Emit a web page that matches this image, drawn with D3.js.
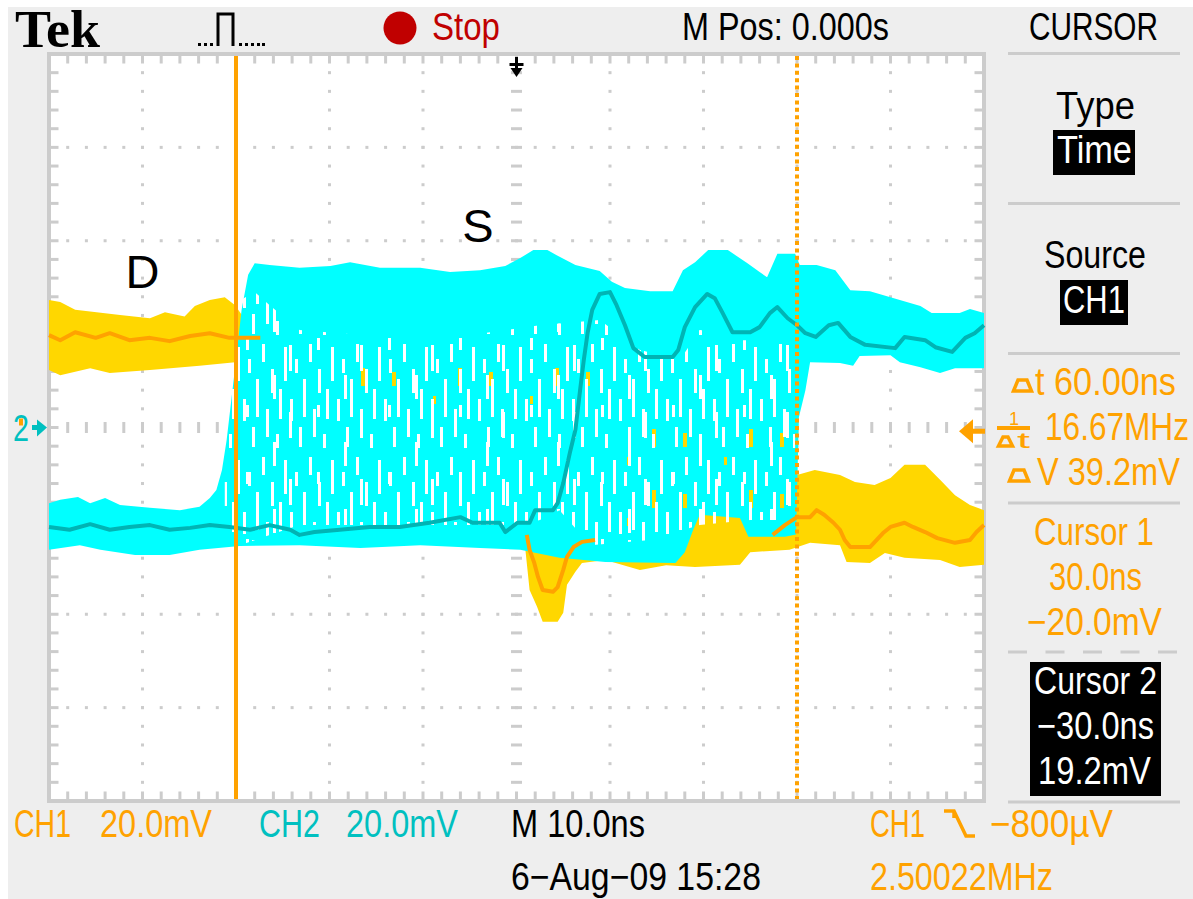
<!DOCTYPE html>
<html>
<head>
<meta charset="utf-8">
<script src="https://cdn.jsdelivr.net/npm/d3@7"></script>
<style>
  html, body { margin: 0; padding: 0; background: #fff; }
  svg { display: block; }
</style>
</head>
<body>
<svg id="scope" width="1193" height="899"></svg>
<script>
// time in ns, voltage in mV (20 mV/div, 10 ns/div)
const ch1Upper = [[-50,27.3],[-48.8,26.9],[-47.2,25.2],[-42.4,24.1],[-39.2,23.4],[-37.6,24.7],[-35.5,23.8],[-34.4,26],[-32.8,27.3],[-31.2,27.9],[-30.1,26.2],[-29,23],[-27.4,18.7],[-23.2,16.6],[-1.8,10.2],[0.6,-21.5],[1.1,-22],[2.5,-22.4],[8.9,-22.4],[13.2,-24],[18.5,-20],[19.1,-18.3],[23.9,-18.3],[26,-19.8],[29.2,-17.7],[30,-10.2],[31.9,-9.1],[34.6,-10.2],[36.2,-11.7],[38.3,-12.3],[40,-10.8],[41.5,-8],[43.7,-8],[45.3,-11.2],[46.9,-14.5],[48.5,-16.6],[50,-17.7]];
const ch1Lower = [[-50,12.3],[-48.8,11.2],[-45.6,12.7],[-43.5,11.7],[-39.2,12.3],[-33.9,13.2],[-30.1,14],[-27.4,10.2],[-23.2,-24.1],[-1.8,-24.1],[0.9,-25.2],[1.4,-34.8],[2.2,-38.4],[2.8,-41.6],[4.4,-41.6],[5,-39.7],[5.4,-33.7],[6.3,-30.9],[7,-29],[9.5,-28.4],[13.2,-30.5],[16,-29.5],[19.1,-29.9],[23.9,-29.4],[25,-26.7],[29.2,-26.2],[31.4,-24.7],[34.6,-25.2],[35.3,-28.8],[37.8,-29],[39.4,-26.9],[41.5,-27.9],[45.3,-28.4],[47.4,-29.9],[50,-29.4]];
const ch1Mean = [[-50,19.8],[-48.8,18.7],[-47.2,20.4],[-45,19.2],[-43.5,20.2],[-41.4,18.7],[-39.2,19.2],[-37.1,18.5],[-34.9,19.6],[-32.8,20.2],[-30.7,19.2],[-27.4,19.2],[-12,null],
  [1.1,-23],[1.4,-26.2],[1.9,-29],[2.3,-32],[2.8,-34.8],[3.9,-35.2],[4.4,-34.2],[5,-30.5],[5.4,-27.7],[6.1,-25.6],[7,-24.5],[8.4,-24.1],[18,null],
  [27.4,-23],[28.7,-20.9],[30,-19.2],[31.4,-19.2],[32.1,-17.7],[32.9,-18.7],[33.9,-20.4],[34.6,-21.9],[35.1,-24.1],[35.7,-25.6],[37.8,-25.6],[38.5,-24.1],[39.2,-22.6],[40,-21.3],[41.5,-20.4],[42.4,-21.3],[43.7,-22.4],[45,-23.7],[46.9,-24.7],[48.5,-24.1],[49.2,-22.4],[50,-20.9]];

const ch2Upper = [[-50,-16.2],[-48.8,-15.5],[-46.9,-14.9],[-45.6,-16.2],[-44,-15.1],[-42.4,-16.6],[-39.2,-17.2],[-36,-17.7],[-33.9,-17],[-32.8,-15.1],[-32.1,-13.4],[-31.5,-9.1],[-31,-2.7],[-30.5,5.9],[-30,14.5],[-29.4,25.2],[-28.7,32.7],[-28,35.2],[-26.4,34.8],[-23.2,34.2],[-19.9,34.6],[-17.8,35.4],[-14.6,34.2],[-10.3,34.2],[-7.1,33.3],[-3.9,33.7],[-1.2,34.6],[0.4,36.3],[1.8,38],[3.3,38],[4.3,36.9],[6.3,34.8],[8.9,33.5],[10.2,31.2],[11.6,29.9],[14.3,29.2],[16.7,29.2],[17.8,33.7],[19.1,35.4],[20.5,38],[22.6,38],[24.7,35.2],[26,33.3],[26.8,32.2],[27.9,37.2],[29.8,37.2],[30.3,34.8],[32.1,34.8],[34.1,33.7],[35.7,29.4],[37.8,29.2],[41,27.3],[43.2,26],[44.4,24.5],[47.4,24.5],[48.5,25.4],[50,24.5]];
const ch2Lower = [[-50,-26.2],[-46.7,-25.2],[-44.5,-26.2],[-40.8,-27.3],[-37.1,-27.3],[-33.9,-26.2],[-29.6,-25.4],[-23.2,-25.2],[-16.7,-25.8],[-10.3,-25.2],[-3.9,-25.8],[0.4,-26.2],[4.6,-27.9],[9.5,-28.8],[17,-29],[18,-26.7],[18.9,-21.9],[19.6,-18.7],[23.9,-19.4],[24.8,-23.4],[28.7,-23.4],[29.9,-22.9],[30.2,2.2],[30.9,8],[31.4,14],[34.6,13.8],[36,13.2],[36.7,15.3],[40,15.5],[41,14],[43.2,12.9],[45.3,11.7],[46.9,12.7],[50,12.7]];
const ch2Mean = [[-50,-21.3],[-47.8,-21.9],[-45.6,-20.7],[-43.5,-21.9],[-41.4,-21.3],[-39.2,-20.9],[-37.1,-21.9],[-34.9,-21.5],[-32.8,-20.9],[-30.7,-21.3],[-28.5,-21.9],[-26.4,-20.9],[-24.2,-21.9],[-23.2,-23],[-21.6,-22.4],[-18.9,-21.9],[-15.7,-21.3],[-12.5,-21.3],[-9.3,-20.4],[-6,-19.2],[-4.7,-20.4],[-1.8,-20.4],[-1.2,-22.4],[0.1,-20.4],[1.4,-20.4],[2,-17.7],[3.9,-17.7],[4.4,-16.2],[5,-11.9],[5.7,-5.5],[6.3,-0.5],[6.8,8],[7.2,14.5],[7.6,20.2],[8.1,25.2],[8.9,28.6],[10,29],[10.7,26.2],[11.6,21.9],[12.5,17],[13.7,15.1],[16.7,15.1],[17.3,16.6],[18,21.5],[19.1,25.8],[20.4,28.6],[21.2,27.7],[22,24.7],[23.1,20.4],[25,20.4],[26,21.5],[27.1,24.5],[27.9,25.8],[29,23.4],[30,21.9],[30.9,20.2],[32,19.4],[33.4,21.9],[34.4,22.4],[35.7,19.4],[37.3,17.7],[40.5,17],[41.5,19.4],[43.7,18.7],[44.8,17.2],[46.6,16.2],[48,19.2],[49,20.2],[50,21.9]];
// part of the CH2 persistence band where sweeps are sparse (white gaps)
const ch2GapUpper = [[-31.2,-9.1],[-30.4,10.2],[-29.5,27.3],[-28,29],[-26.4,26.2],[-23.2,20.9],[-16.7,19.8],[-7.1,19.2],[2.5,21.9],[8.9,23],[13.2,16.6],[17.5,14.5],[19.6,20.9],[23.9,18.7],[29.8,18.7]];
const ch2GapLower = [[-31.2,-19.8],[-29.6,-25.2],[-23.2,-20.9],[-12.5,-20.9],[0.4,-20.9],[2.5,-19.8],[4.6,-17.7],[7.9,-25.2],[14.3,-24.1],[19.6,-20.9],[25,-19.8],[29.8,-19.8]];
// CH1 samples showing through the CH2 persistence
const ch1SpeckUpper = [[-23,18],[8,18],[12,2],[29.5,2]];
const ch1SpeckLower = [[-23,9],[8,0],[12,-22],[29.5,-22]];

const cursorTimes = [-30, 30];   // cursor 2 (solid), cursor 1 (dotted)
const triggerLevel = -0.8;       // mV
const timeDomain = [-50, 50];
const voltDomain = [-80, 80];

const W = 1193, H = 899;
const ORANGE = '#ffa200', GOLD = '#ffd700', CYAN = '#00ffff', TEAL = '#00b4b4', CH2TXT = '#00c0c0';
const GRID = '#cccccc';
const FONT = "'Liberation Sans Narrow', 'Liberation Sans', sans-serif";

const svg = d3.select('#scope');

svg.append('rect').attr('width', W).attr('height', H).attr('fill', '#fff');
svg.append('rect').attr('x', 8).attr('y', 7).attr('width', W - 8).attr('height', H - 7).attr('fill', '#eeeeee');

const x = d3.scaleLinear(timeDomain, [49, 984]);
const y = d3.scaleLinear(voltDomain, [801, 54]);

/* plot area */
svg.append('rect')
  .attr('x', x(-50)).attr('y', y(80))
  .attr('width', x(50) - x(-50)).attr('height', y(-80) - y(80))
  .attr('fill', '#fff');

/* textures for the persistence display */
const defs = svg.append('defs');
function pattern(id, w, h, rects, color) {
  const p = defs.append('pattern')
    .attr('id', id)
    .attr('patternUnits', 'userSpaceOnUse')
    .attr('width', w).attr('height', h);
  rects.forEach((r) => {
    p.append('rect').attr('x', r[0]).attr('y', r[1]).attr('width', r[2]).attr('height', r[3]).attr('fill', color);
  });
}
pattern('gapsA', 47, 113, [[2,8,3,34],[8,60,3,22],[13,20,3,14],[17,88,3,20],[21,40,3,38],[27,5,3,18],[31,70,3,28],[36,30,3,24],[41,95,3,14],[44,50,3,30]], '#fff');
pattern('gapsB', 71, 67, [[5,10,3,26],[33,3,3,12],[60,40,3,24]], '#fff');
pattern('specks', 97, 61, [[4,6,4,14],[45,30,3,8],[70,2,4,18]], GOLD);

/* grid */
const grid = svg.append('g');
const minorT = d3.range(-50, 50.001, 2);
const minorV = d3.range(-80, 80.001, 4);
const majorT = d3.range(-40, 40.001, 10).filter((d) => d !== 0);
const majorV = d3.range(-60, 60.001, 20).filter((d) => d !== 0);

function dot(cx, cy, w, h) {
  grid.append('rect')
    .attr('x', cx - w / 2).attr('y', cy - h / 2)
    .attr('width', w).attr('height', h)
    .attr('fill', GRID);
}

majorT.forEach((t) => minorV.slice(1, -1).forEach((v) => dot(x(t), y(v), 3, 3)));
majorV.forEach((v) => minorT.slice(1, -1).forEach((t) => dot(x(t), y(v), 3, 3)));
minorT.slice(1, -1).forEach((t) => dot(x(t), y(0), 3, 11));
minorV.slice(1, -1).forEach((v) => dot(x(0), y(v), 11, 3));

// border ticks
minorT.slice(1, -1).forEach((t) => {
  dot(x(t), y(80) + 5, 3, 9);
  dot(x(t), y(-80) - 5, 3, 9);
});
minorV.slice(1, -1).forEach((v) => {
  dot(x(-50) + 5, y(v), 9, 3);
  dot(x(50) - 5, y(v), 9, 3);
});

grid.append('rect')
  .attr('x', x(-50)).attr('y', y(80))
  .attr('width', x(50) - x(-50)).attr('height', y(-80) - y(80))
  .attr('fill', 'none').attr('stroke', GRID).attr('stroke-width', 4);

/* traces */
const line = d3.line()
  .defined((d) => d[1] !== null)
  .x((d) => x(d[0]))
  .y((d) => y(d[1]));

function band(up, lo) {
  return line(up.concat(lo.slice().reverse())) + 'Z';
}

const traces = svg.append('g');

traces.append('path').attr('d', band(ch1Upper, ch1Lower)).attr('fill', GOLD);
traces.append('path').attr('d', band(ch2Upper, ch2Lower)).attr('fill', CYAN);
traces.append('path').attr('d', band(ch1SpeckUpper, ch1SpeckLower)).attr('fill', 'url(#specks)');
traces.append('path').attr('d', band(ch2GapUpper, ch2GapLower)).attr('fill', 'url(#gapsA)');
traces.append('path').attr('d', band(ch2GapUpper, ch2GapLower)).attr('fill', 'url(#gapsB)');

traces.append('path')
  .attr('d', line(ch1Mean))
  .attr('fill', 'none').attr('stroke', ORANGE).attr('stroke-width', 4)
  .attr('stroke-linejoin', 'round');
traces.append('path')
  .attr('d', line(ch2Mean))
  .attr('fill', 'none').attr('stroke', TEAL).attr('stroke-width', 4)
  .attr('stroke-linejoin', 'round');

/* cursors */
cursorTimes.forEach((t, i) => {
  svg.append('line')
    .attr('x1', x(t)).attr('x2', x(t))
    .attr('y1', y(80) + 2).attr('y2', y(-80) - 2)
    .attr('stroke', ORANGE).attr('stroke-width', 4)
    .attr('stroke-dasharray', i === 0 ? null : '4,3.4');
});

/* markers */
// trigger position
const tx = x(0);
svg.append('rect').attr('x', tx - 1.5).attr('y', 57).attr('width', 3).attr('height', 12).attr('fill', '#000');
svg.append('rect').attr('x', tx - 7).attr('y', 63).attr('width', 14).attr('height', 3).attr('fill', '#000');
svg.append('path').attr('d', `M${tx - 6},68 L${tx + 6},68 L${tx},77 Z`).attr('fill', '#000');

/* readouts: text squeezed horizontally to the narrow scope font */
function label(str, x0, x1, base, color, size, family, weight) {
  const t = svg.append('text')
    .attr('font-family', family || FONT).attr('font-size', size || 38)
    .attr('font-weight', weight || null)
    .attr('fill', color).text(str);
  const natural = t.node().getComputedTextLength();
  const sx = natural > 0 ? (x1 - x0) / natural : 1;
  t.attr('transform', `translate(${x0},${base}) scale(${sx},1)`);
  return t;
}

// CH2 ground marker
const gy = y(0);
label('2', 13, 29, gy + 13, CH2TXT, 36);
svg.append('rect').attr('x', 19).attr('y', gy - 9).attr('width', 4).attr('height', 7).attr('fill', ORANGE);
svg.append('rect').attr('x', 32).attr('y', gy - 2.5).attr('width', 6).attr('height', 5).attr('fill', CH2TXT);
svg.append('path').attr('d', `M37,${gy - 8} L47,${gy} L37,${gy + 9} Z`).attr('fill', CH2TXT);

// trigger level marker
const ty = y(triggerLevel);
svg.append('path').attr('d', `M959,${ty} L973,${ty - 12} L973,${ty + 12} Z`).attr('fill', ORANGE);
svg.append('rect').attr('x', 972).attr('y', ty - 2.5).attr('width', 13).attr('height', 5).attr('fill', ORANGE);

/* trace labels */
svg.append('text').attr('x', x(-40)).attr('y', 288).attr('text-anchor', 'middle')
  .attr('font-family', "'Liberation Sans', Arial, sans-serif").attr('font-size', 47).text('D');
svg.append('text').attr('x', 478).attr('y', 242).attr('text-anchor', 'middle')
  .attr('font-family', "'Liberation Sans', Arial, sans-serif").attr('font-size', 47).text('S');

// top bar
label('Tek', 15, 100, 47, '#000', 52, "'Liberation Serif', 'DejaVu Serif', serif", 'bold');

svg.append('path')
  .attr('d', 'M218,46 L218,14 L233,14 L233,46')
  .attr('fill', 'none').attr('stroke', '#000').attr('stroke-width', 3);
[198, 204, 210, 239, 245, 251, 257, 262].forEach((px) => {
  svg.append('rect').attr('x', px).attr('y', 43).attr('width', 3).attr('height', 3).attr('fill', '#000');
});

svg.append('circle').attr('cx', 400).attr('cy', 28).attr('r', 16.5).attr('fill', '#c00000');
label('Stop', 432, 500, 40, '#c00000');
label('M Pos: 0.000s', 682, 889, 40, '#000');
label('CURSOR', 1029, 1158, 40, '#000');

// right menu
[53.5, 203.5, 353.5, 503, 802].forEach((py) => {
  svg.append('line').attr('x1', 1008).attr('x2', 1180).attr('y1', py).attr('y2', py)
    .attr('stroke', GRID).attr('stroke-width', 3);
});
svg.append('line').attr('x1', 1008).attr('x2', 1180).attr('y1', 652).attr('y2', 652)
  .attr('stroke', GRID).attr('stroke-width', 3).attr('stroke-dasharray', '19,18.5');

label('Type', 1056, 1135, 119, '#000');
svg.append('rect').attr('x', 1053).attr('y', 130).attr('width', 82).attr('height', 45).attr('fill', '#000');
label('Time', 1057, 1132, 163, '#fff');
label('Source', 1044, 1146, 268, '#000');
svg.append('rect').attr('x', 1060).attr('y', 280).attr('width', 68).attr('height', 45).attr('fill', '#000');
label('CH1', 1063, 1125, 313, '#fff');

function delta(x0, x1, yTop, yBase) {
  svg.append('path')
    .attr('d', `M${x0 + 1.5},${yBase} L${x0 + 6},${yTop} L${x1 - 6},${yTop} L${x1 - 1.5},${yBase} Z`)
    .attr('fill', 'none').attr('stroke', ORANGE).attr('stroke-width', 3.5);
}
delta(1012, 1033, 380, 391);
label('t 60.00ns', 1035, 1176, 395, ORANGE);
label('1', 1009, 1019, 425, ORANGE, 18);
svg.append('rect').attr('x', 997).attr('y', 426).attr('width', 33).attr('height', 4).attr('fill', ORANGE);
delta(997, 1014, 437, 446);
label('t', 1017, 1030, 448, ORANGE, 22);
label('16.67MHz', 1045, 1189, 440, ORANGE);
delta(1008, 1030, 470, 481);
label('V 39.2mV', 1037, 1180, 485, ORANGE);

label('Cursor 1', 1034, 1154, 545, ORANGE);
label('30.0ns', 1049, 1142, 590, ORANGE);
label('\u221220.0mV', 1027, 1162, 635, ORANGE);

svg.append('rect').attr('x', 1030).attr('y', 662).attr('width', 131).attr('height', 134).attr('fill', '#000');
label('Cursor 2', 1034, 1157, 694, '#fff');
label('\u221230.0ns', 1037, 1154, 739, '#fff');
label('19.2mV', 1038, 1151, 784, '#fff');

// bottom bar
label('CH1', 14, 71, 837, ORANGE);
label('20.0mV', 100, 212, 837, ORANGE);
label('CH2', 259, 320, 837, CH2TXT);
label('20.0mV', 346, 458, 837, CH2TXT);
label('M 10.0ns', 511, 645, 837, '#000');
label('6\u2212Aug\u221209 15:28', 511, 761, 890, '#000');
label('CH1', 870, 925, 837, ORANGE);
svg.append('path')
  .attr('d', 'M944,811 L954,811 L966,836 L975,836 M954,811 L954,818')
  .attr('fill', 'none').attr('stroke', ORANGE).attr('stroke-width', 3.5);
label('\u2212800\u00b5V', 990, 1113, 837, ORANGE);
label('2.50022MHz', 870, 1053, 890, ORANGE);
</script>
</body>
</html>
